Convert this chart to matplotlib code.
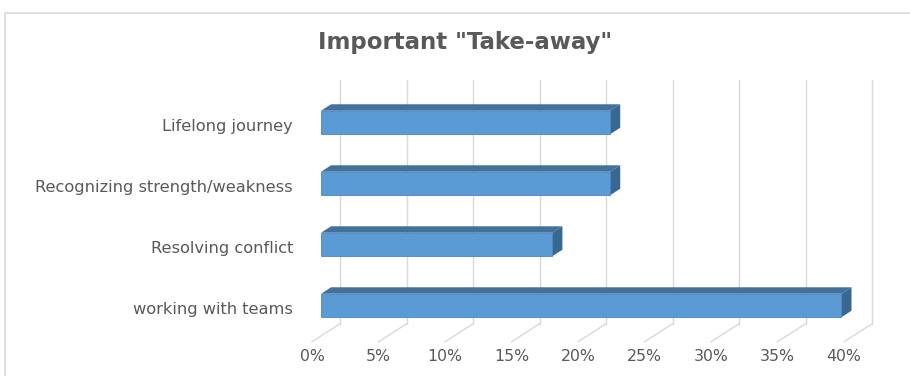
import matplotlib
matplotlib.use("Agg")
import matplotlib.pyplot as plt
from matplotlib.patches import Polygon, Rectangle

plt.rcParams['font.family'] = ['DejaVu Sans']

# survey answers (23 respondents)
categories = ["working with teams", "Resolving conflict",
              "Recognizing strength/weakness", "Lifelong journey"]
shares = [9 / 23, 4 / 23, 5 / 23, 5 / 23]
ticks = [0.0, 0.05, 0.10, 0.15, 0.20, 0.25, 0.30, 0.35, 0.40]
tick_labels = ["0%", "5%", "10%", "15%", "20%", "25%", "30%", "35%", "40%"]
title = 'Important "Take-away"'

W, H, DPI = 910, 376, 100
fig = plt.figure(figsize=(W / DPI, H / DPI), dpi=DPI)

# axes = front plane of the bars, in pixels
ax_l, ax_r, ax_t, ax_b = 321, 853, 92, 336
ax = fig.add_axes([ax_l / W, 1 - ax_b / H, (ax_r - ax_l) / W, (ax_b - ax_t) / H])
xmax = ticks[-1]
ax.set_xlim(0, xmax)
ax.set_ylim(-0.5, len(categories) - 0.5)
ax.axis('off')

# pixel -> data conversions for the oblique 3d offsets
px_x = xmax / (ax_r - ax_l)
px_y = len(categories) / (ax_b - ax_t)
depth = (28, 18)  # floor front edge to back wall, in px


def shift(frac):
    return depth[0] * frac * px_x, depth[1] * frac * px_y


back = shift(0.68)
bar_d = shift(0.36)
front = shift(-0.32)
y0 = -0.5
y1 = len(categories) - 0.5

grid_c = "#d9d9d9"
for t in ticks:
    # back wall gridline
    ax.plot([t + back[0], t + back[0]], [y0 + back[1], y1 + back[1]],
            color=grid_c, lw=1, zorder=1, clip_on=False)
    # floor line
    ax.plot([t + back[0], t + front[0]], [y0 + back[1], y0 + front[1]],
            color=grid_c, lw=1, zorder=1, clip_on=False)

face_c = "#5b9bd5"
top_c = "#41719c"
side_c = "#386792"
h = 0.385
for i, v in enumerate(shares):
    lo, hi = i - h / 2, i + h / 2
    dx, dy = bar_d
    ax.add_patch(Polygon([(0, hi), (v, hi), (v + dx, hi + dy), (dx, hi + dy)],
                         closed=True, fc=top_c, ec="none", zorder=3, clip_on=False))
    ax.add_patch(Polygon([(v, lo), (v + dx, lo + dy), (v + dx, hi + dy), (v, hi)],
                         closed=True, fc=side_c, ec="none", zorder=3, clip_on=False))
    ax.add_patch(Rectangle((0, lo), v, h, fc=face_c, ec="#4a86c0", lw=0.6,
                           zorder=4, clip_on=False))
    ax.text(-28 * px_x, i - 4 * px_y, categories[i], ha='right', va='center',
            fontsize=11.7, color="#595959")

for t, lab in zip(ticks, tick_labels):
    ax.text(t + front[0], y0 + front[1] - 15 * px_y, lab, ha='center', va='center',
            fontsize=11.3, color="#595959")

fig.text(465 / W, 1 - 42 / H, title, ha='center', va='center',
         fontsize=16.5, fontweight='bold', color="#595959")

# chart area border
fig.patches.append(Rectangle((5 / W, -0.1), 1.2, 1.1 - 13 / H, transform=fig.transFigure,
                             fill=False, ec="#d9d9d9", lw=1.2))

fig.savefig("out.png", dpi=DPI)
